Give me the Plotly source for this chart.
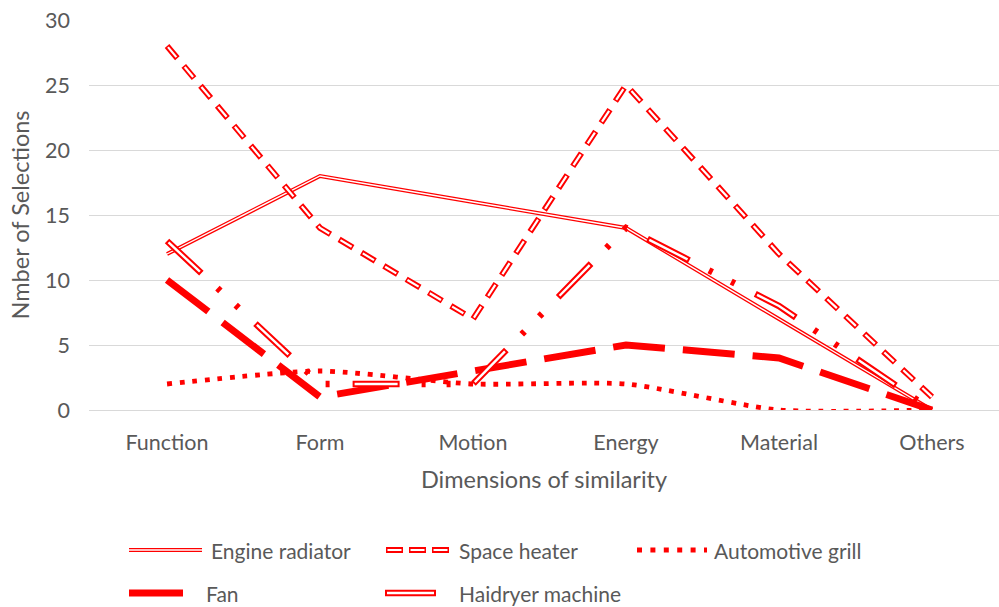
import plotly.graph_objects as go

# Categories and series values
categories = ["Function", "Form", "Motion", "Energy", "Material", "Others"]
engine_radiator = [12, 18, 16, 14, 7, 0]
space_heater = [28, 14, 7, 25, 12, 1]
automotive_grill = [2, 3, 2, 2, 0, 0]
fan = [10, 1, 3, 5, 4, 0]
haidryer_machine = [13, 2, 2, 14, 8, 0]

y_ticks = [0, 5, 10, 15, 20, 25, 30]

RED = "#ff0000"
GRAY = "#595959"
GRID = "#d9d9d9"
FONT = "Lato"
TICK_SIZE = 21.5
TITLE_SIZE = 23.5
LEGEND_SIZE = 21

W, H = 999, 607
ML, MR, MT, MB = 89, 0, 20, 197
PW, PH = W - ML - MR, H - MT - MB

fig = go.Figure()


def add_series(y, width, dash, shape="linear", inner=None):
    """Draw one series; `inner` adds a white core stroke for compound lines."""
    fig.add_trace(go.Scatter(
        x=categories, y=y, mode="lines", showlegend=False, hoverinfo="skip",
        line=dict(color=RED, width=width, dash=dash, shape=shape, smoothing=0.6),
    ))
    if inner is not None:
        iw, idash = inner
        fig.add_trace(go.Scatter(
            x=categories, y=y, mode="lines", showlegend=False, hoverinfo="skip",
            line=dict(color="white", width=iw, dash=idash, shape=shape, smoothing=0.6),
        ))


add_series(engine_radiator, 4, "solid", inner=(1.4, "solid"))
add_series(space_heater, 6, "16px,10px", inner=(2.2, "0px,1.5px,13px,11.5px"))
add_series(automotive_grill, 4.8, "4.8px,7.8px", shape="spline")
add_series(fan, 7, "52px,18px")
add_series(haidryer_machine, 6.5, "47px,22px,4px,21px,4px,23px",
           inner=(2.4, "0px,2px,43px,76px"))


# Legend drawn in pixel positions below the plot area
def px_x(px):
    return (px - ML) / PW


def px_y(py):
    return (MT + PH - py) / PH


shapes = []
annotations = []


def legend_line(x0, x1, y, width, dash="solid", color=RED):
    shapes.append(dict(type="line", xref="paper", yref="paper",
                       x0=px_x(x0), x1=px_x(x1), y0=px_y(y), y1=px_y(y),
                       line=dict(color=color, width=width, dash=dash)))


def legend_text(x, y, text):
    annotations.append(dict(xref="paper", yref="paper", x=px_x(x), y=px_y(y),
                            xanchor="left", yanchor="middle", showarrow=False,
                            borderpad=0,
                            text=text, font=dict(family=FONT, size=LEGEND_SIZE, color=GRAY)))


row1, row2 = 550, 593
legend_line(129, 202, row1, 4)
legend_line(129, 202, row1, 1.4, color="white")
legend_text(210, row1, "Engine radiator")

legend_line(386, 452, row1, 6, dash="17px,6px")
legend_line(386, 452, row1, 2.2, dash="0px,1.5px,14px,7.5px", color="white")
legend_text(458, row1, "Space heater")

legend_line(637, 707, row1, 5, dash="5px,8.4px")
legend_text(713, row1, "Automotive grill")

legend_line(129, 183, row2, 7)
legend_text(205, row2, "Fan")

legend_line(385, 436, row2, 6.5)
legend_line(387, 434, row2, 2.4, color="white")
legend_text(458, row2, "Haidryer machine")

fig.update_layout(
    width=W, height=H,
    margin=dict(l=ML, r=MR, t=MT, b=MB),
    paper_bgcolor="white", plot_bgcolor="white",
    font=dict(family=FONT, size=TICK_SIZE, color=GRAY),
    showlegend=False,
    shapes=shapes,
    annotations=annotations,
    xaxis=dict(
        type="category", range=[-0.51, 5.438],
        showgrid=False, zeroline=False,
        showline=True, linecolor=GRID, linewidth=1,
        ticks="", ticklabelstandoff=13,
        tickfont=dict(family=FONT, size=TICK_SIZE, color=GRAY),
        title=dict(text="Dimensions of similarity", standoff=17,
                   font=dict(family=FONT, size=TITLE_SIZE, color=GRAY)),
    ),
    yaxis=dict(
        range=[0, 30], tickvals=y_ticks,
        showgrid=True, gridcolor=GRID, gridwidth=1,
        zeroline=False, showline=False, ticks="", ticklabelstandoff=18,
        tickfont=dict(family=FONT, size=TICK_SIZE, color=GRAY),
        title=dict(text="Nmber of Selections", standoff=8,
                   font=dict(family=FONT, size=TITLE_SIZE, color=GRAY)),
    ),
)

fig.write_html("out.html")
